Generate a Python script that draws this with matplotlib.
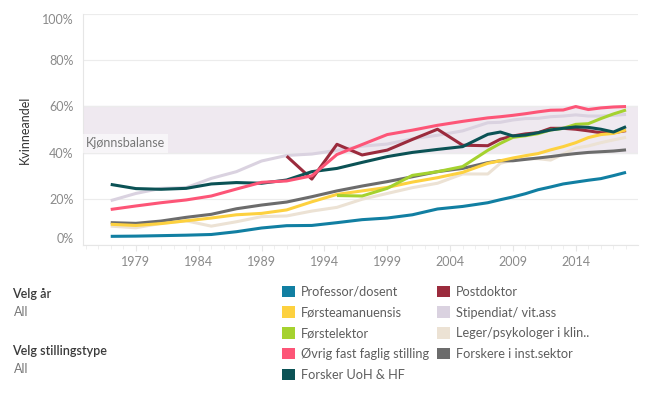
import numpy as np
import matplotlib.pyplot as plt
from matplotlib.patches import Patch

plt.rcParams['font.family'] = ['Lato', 'DejaVu Sans']

years = [1977, 1979, 1981, 1983, 1985, 1987, 1989, 1991, 1993, 1995, 1997, 1999,
         2001, 2003, 2005, 2007, 2008, 2009, 2010, 2011, 2012, 2013, 2014, 2015,
         2016, 2017, 2018]

professor = [3.9, 4.0, 4.2, 4.4, 4.7, 5.9, 7.5, 8.5, 8.6, 9.8, 11.1, 11.8, 13.2, 15.7,
             16.8, 18.4, 19.7, 20.9, 22.3, 24.0, 25.2, 26.5, 27.3, 28.1, 28.8, 30.1, 31.5]
forsteamanuensis = [9.1, 8.6, 9.4, 10.6, 11.8, 13.2, 13.8, 15.3, 18.8, 22.0, 23.5, 25.0,
                    27.3, 29.2, 31.5, 35.4, 36.5, 37.7, 38.7, 39.6, 41.2, 42.6, 44.3, 46.5,
                    47.8, 48.3, 49.8]
forstelektor = [None] * 9 + [21.5, 21.3, 24.6, 30.2, 31.8, 34.0, 41.0, 44.0, 46.6, 47.3,
                             48.2, 49.8, 50.5, 52.2, 52.5, 54.7, 56.7, 58.4]
ovrig = [15.5, 17.0, 18.4, 19.6, 21.3, 24.3, 27.2, 27.8, 30.0, 39.2, 43.5, 47.8, 49.7,
         51.8, 53.5, 55.0, 55.5, 56.1, 56.8, 57.6, 58.3, 58.4, 59.9, 58.6, 59.3, 59.7, 59.9]
forsker_uoh = [26.3, 24.5, 24.2, 24.6, 26.5, 27.1, 26.8, 28.2, 31.8, 33.2, 35.8, 38.3,
               40.1, 41.4, 42.6, 47.9, 48.9, 47.2, 47.6, 48.6, 49.8, 50.5, 51.1, 50.9,
               50.1, 48.9, 51.2]
postdoktor = [None] * 7 + [38.5, 28.6, 43.6, 39.0, 41.1, 45.7, 50.1, 43.2, 43.0, 45.8,
                           47.2, 48.1, 48.6, 50.5, 50.5, 50.1, 49.4, 48.6, 48.6, 49.5]
stipendiat = [19.3, 22.4, 24.6, 24.9, 28.9, 31.8, 36.4, 38.8, 39.4, 41.0, 42.8, 43.7,
              46.0, 47.5, 49.4, 52.9, 53.1, 54.1, 54.7, 54.8, 55.5, 55.8, 56.3, 55.8,
              55.8, 56.1, 56.5]
leger = [8.3, 7.6, 9.5, 10.6, 8.3, 10.2, 12.4, 12.7, 14.8, 16.4, 19.9, 22.4, 24.9, 26.8,
         30.8, 30.8, 35.4, 36.8, 37.4, 37.4, 36.8, 39.4, 42.0, 42.9, 44.3, 45.5, 46.6]
forskere_inst = [9.8, 9.5, 10.5, 12.1, 13.4, 15.8, 17.4, 18.7, 21.0, 23.5, 25.6, 27.5,
                 29.6, 31.8, 33.2, 35.7, 36.5, 36.5, 37.1, 37.7, 38.3, 39.0, 39.6, 40.1,
                 40.4, 40.7, 41.2]

names = ['Professor/dosent', 'Førsteamanuensis', 'Førstelektor',
         'Øvrig fast faglig stilling', 'Forsker UoH & HF', 'Postdoktor',
         'Stipendiat/ vit.ass', 'Leger/psykologer i klin..', 'Forskere i inst.sektor']
series = [professor, forsteamanuensis, forstelektor, ovrig, forsker_uoh, postdoktor,
          stipendiat, leger, forskere_inst]
colors = ['#117fa2', '#fdd13f', '#a5d22f', '#fd5577', '#0b5255', '#9b2b3d',
          '#dad2e0', '#ece2d4', '#6c6c6c']
# drawing order (back to front)
order = [6, 7, 8, 0, 5, 1, 2, 4, 3]

fig = plt.figure(figsize=(6.49, 3.99), dpi=100)
ax = fig.add_axes([0.128, 0.385, 0.855, 0.581])

ax.axhspan(40, 60, color='#efe9f0', zorder=0)
for i in order:
    y = np.array([np.nan if v is None else v for v in series[i]], dtype=float)
    ax.plot(years, y, color=colors[i], lw=2.2, solid_capstyle='butt', zorder=2 + order.index(i))

ax.text(1975.0, 44.0, 'Kjønnsbalanse', fontsize=9, color='#777777', va='center', ha='left',
        bbox=dict(boxstyle='square,pad=0.25', fc='white', ec='none', alpha=0.55), zorder=12)

ax.set_xlim(1974.8, 2018.95)
ax.set_ylim(0, 100)
ax.set_yticks([0, 20, 40, 60, 80, 100])
ax.set_yticklabels(['0%', '20%', '40%', '60%', '80%', '100%'])
ax.set_xticks(range(1979, 2015, 5))
ax.set_xticks(range(1975, 2019), minor=True)
ax.grid(axis='y', color='#ececec', lw=0.8, zorder=0)
for s in ['top', 'right']:
    ax.spines[s].set_visible(False)
ax.spines['left'].set_color('#e6e6e6')
ax.spines['bottom'].set_color('#e6e6e6')
ax.tick_params(axis='y', length=0, labelsize=9, labelcolor='#8a8a8a', pad=7)
ax.tick_params(axis='x', which='major', length=4, color='#e6e6e6', labelsize=9,
               labelcolor='#8a8a8a', pad=4)
ax.tick_params(axis='x', which='minor', length=3, color='#ececec')
tl = ax.get_yticklabels()
tl[0].set_va('bottom')
tl[-1].set_va('top')
ax.set_ylabel('Kvinneandel', fontsize=9, color='#333333', labelpad=8)

fig.text(0.018, 0.262, 'Velg år', fontsize=9, color='#3a3a3a', fontweight='semibold', va='center')
fig.text(0.021, 0.217, 'All', fontsize=9, color='#777777', va='center')
fig.text(0.018, 0.12, 'Velg stillingstype', fontsize=9, color='#3a3a3a', fontweight='semibold',
         va='center')
fig.text(0.021, 0.075, 'All', fontsize=9, color='#777777', va='center')

handles = [Patch(facecolor=c, edgecolor='none') for c in colors]
fig.legend(handles, names, loc='upper left', bbox_to_anchor=(0.4345, 0.284), ncol=2,
           frameon=False, fontsize=9.2, labelcolor='#5e5e5e', handlelength=1.0,
           handleheight=1.0, handletextpad=0.5, labelspacing=0.68, columnspacing=0.6,
           borderaxespad=0, borderpad=0)

fig.savefig('out.png', dpi=100)
